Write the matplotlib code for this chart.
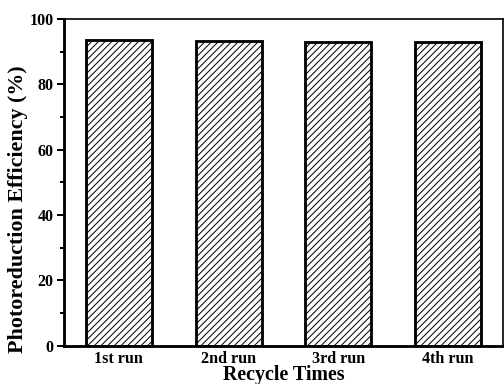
import numpy as np
import matplotlib.pyplot as plt
from matplotlib.ticker import MultipleLocator

plt.rcParams['font.family'] = ['Liberation Serif', 'DejaVu Serif']
plt.rcParams['font.weight'] = 'bold'
plt.rcParams['hatch.linewidth'] = 0.6

runs = ['1st run', '2nd run', '3rd run', '4th run']
efficiency = [93.5, 93.4, 93.0, 93.0]

W, H = 505, 384
fig = plt.figure(figsize=(W/120, H/120), dpi=120)
ax = fig.add_axes([64/W, 1-345.7/H, (503-64)/W, (345.7-19)/H])

x = np.arange(len(runs))
ax.bar(x, efficiency, width=0.6, color='white', edgecolor='black',
       linewidth=1.7, hatch='//////')

ax.set_xlim(-0.5, 3.5)
ax.set_ylim(0, 100)
ax.set_xticks(x)
ax.set_xticklabels(runs, fontsize=9.7, fontweight='bold')
ax.tick_params(axis='x', length=0, pad=3)
ax.yaxis.set_major_locator(MultipleLocator(20))
ax.yaxis.set_minor_locator(MultipleLocator(10))
ax.tick_params(axis='y', which='major', direction='out', length=4.2, width=1.2, labelsize=9.6, pad=2)
ax.tick_params(axis='y', which='minor', direction='out', length=2.4, width=1.2)
for lab in ax.get_yticklabels():
    lab.set_fontweight('bold')

ax.spines['left'].set_linewidth(1.7)
ax.spines['bottom'].set_linewidth(1.7)
ax.spines['top'].set_linewidth(1.0)
ax.spines['right'].set_linewidth(1.0)

ax.set_xlabel('Recycle Times', fontsize=12, fontweight='bold')
ax.xaxis.set_label_coords(0.5, -0.058)
ax.set_ylabel('Photoreduction Efficiency (%)', fontsize=13.2, fontweight='bold')
ax.yaxis.set_label_coords(-0.082, 0.418)

fig.savefig('out.png', dpi=120)
